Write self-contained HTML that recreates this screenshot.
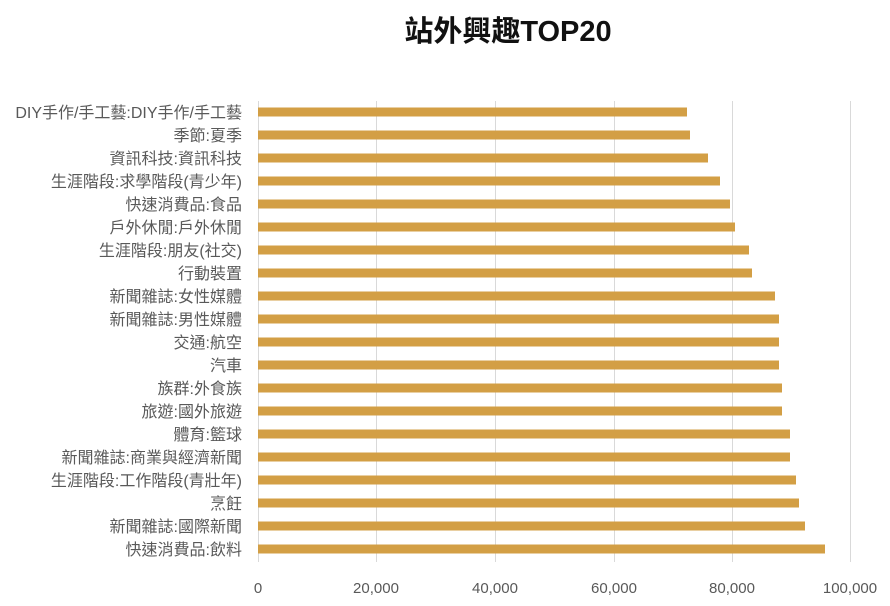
<!DOCTYPE html>
<html><head><meta charset="utf-8"><style>
body{margin:0;background:#fff;}
</style></head><body>
<svg width="890" height="601" xmlns="http://www.w3.org/2000/svg" font-family="Liberation Sans, Noto Sans CJK TC, sans-serif">
<text x="508" y="41" text-anchor="middle" font-size="29" font-weight="bold" fill="#111">站外興趣TOP20</text>
<g stroke="#d9d9d9" stroke-width="1">
<line x1="258.5" y1="101" x2="258.5" y2="562"/>
<line x1="376.5" y1="101" x2="376.5" y2="562"/>
<line x1="495.5" y1="101" x2="495.5" y2="562"/>
<line x1="614.5" y1="101" x2="614.5" y2="562"/>
<line x1="732.5" y1="101" x2="732.5" y2="562"/>
<line x1="850.5" y1="101" x2="850.5" y2="562"/>
</g>
<g fill="#D39F45">
<rect x="258" y="107.5" width="429" height="9"/>
<rect x="258" y="130.5" width="432" height="9"/>
<rect x="258" y="153.5" width="450" height="9"/>
<rect x="258" y="176.5" width="462" height="9"/>
<rect x="258" y="199.5" width="472" height="9"/>
<rect x="258" y="222.5" width="477" height="9"/>
<rect x="258" y="245.5" width="491" height="9"/>
<rect x="258" y="268.5" width="494" height="9"/>
<rect x="258" y="291.5" width="517" height="9"/>
<rect x="258" y="314.5" width="521" height="9"/>
<rect x="258" y="337.5" width="521" height="9"/>
<rect x="258" y="360.5" width="521" height="9"/>
<rect x="258" y="383.5" width="524" height="9"/>
<rect x="258" y="406.5" width="524" height="9"/>
<rect x="258" y="429.5" width="532" height="9"/>
<rect x="258" y="452.5" width="532" height="9"/>
<rect x="258" y="475.5" width="538" height="9"/>
<rect x="258" y="498.5" width="541" height="9"/>
<rect x="258" y="521.5" width="547" height="9"/>
<rect x="258" y="544.5" width="567" height="9"/>
</g>
<g font-size="16" fill="#595959" text-anchor="end">
<text x="242" y="118">DIY手作/手工藝:DIY手作/手工藝</text>
<text x="242" y="141">季節:夏季</text>
<text x="242" y="164">資訊科技:資訊科技</text>
<text x="242" y="187">生涯階段:求學階段(青少年)</text>
<text x="242" y="210">快速消費品:食品</text>
<text x="242" y="233">戶外休閒:戶外休閒</text>
<text x="242" y="256">生涯階段:朋友(社交)</text>
<text x="242" y="279">行動裝置</text>
<text x="242" y="302">新聞雜誌:女性媒體</text>
<text x="242" y="325">新聞雜誌:男性媒體</text>
<text x="242" y="348">交通:航空</text>
<text x="242" y="371">汽車</text>
<text x="242" y="394">族群:外食族</text>
<text x="242" y="417">旅遊:國外旅遊</text>
<text x="242" y="440">體育:籃球</text>
<text x="242" y="463">新聞雜誌:商業與經濟新聞</text>
<text x="242" y="486">生涯階段:工作階段(青壯年)</text>
<text x="242" y="509">烹飪</text>
<text x="242" y="532">新聞雜誌:國際新聞</text>
<text x="242" y="555">快速消費品:飲料</text>
</g>
<g font-size="15" fill="#595959" text-anchor="middle">
<text x="258" y="593">0</text>
<text x="376" y="593">20,000</text>
<text x="495" y="593">40,000</text>
<text x="614" y="593">60,000</text>
<text x="732" y="593">80,000</text>
<text x="850" y="593">100,000</text>
</g>
</svg>
</body></html>
